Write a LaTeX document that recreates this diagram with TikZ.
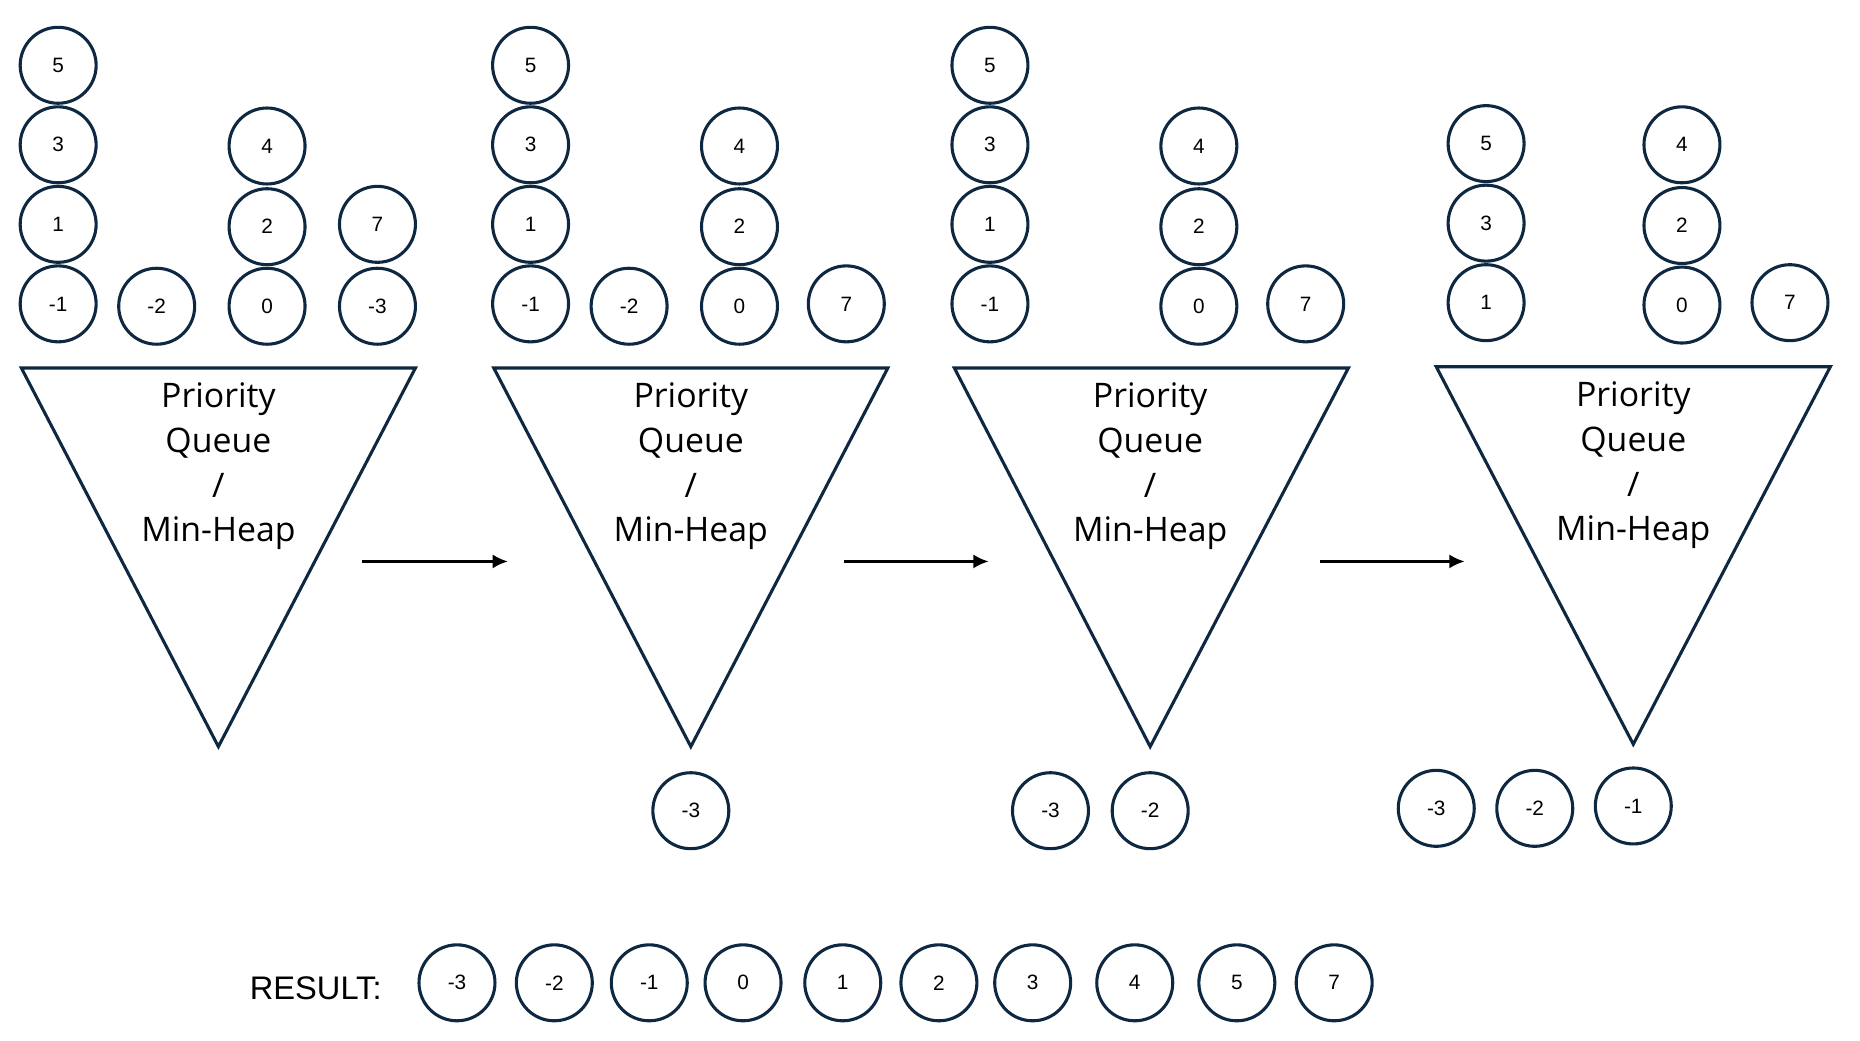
\documentclass[tikz,border=0pt]{standalone}
\usepackage{fontspec}
\setmainfont{Liberation Sans}
\newfontfamily\pqfont{Open Sans}
\usetikzlibrary{arrows.meta}
\definecolor{navy}{HTML}{0E2841}
\begin{document}
\begin{tikzpicture}[x=1pt,y=-1pt,
  ball/.style={circle, draw=navy, line width=2.6pt, minimum size=64pt, inner sep=0pt, font=\fontsize{17.5}{20}\selectfont},
  funnel/.style={draw=navy, line width=2.6pt, line join=miter},
  pqlabel/.style={align=center, font=\pqfont\fontsize{28.5}{37.7}\selectfont},
  flow/.style={-{Latex[length=13pt,width=12pt]}, line width=2.5pt, black},
  restext/.style={font=\fontsize{27.5}{32}\selectfont}]
\useasboundingbox (0,0) rectangle (1567,877);

% ---- panel 1
\node[ball] (p1a5) at (49,55) {5};
\node[ball] (p1a3) at (49,122) {3};
\node[ball] (p1a1) at (49,189) {1};
\node[ball] (p1am1) at (49,256) {-1};
\node[ball] (p1bm2) at (132,258) {-2};
\node[ball] (p1c4) at (225,123) {4};
\node[ball] (p1c2) at (225,191) {2};
\node[ball] (p1c0) at (225,258) {0};
\node[ball] (p1d7) at (318,189) {7};
\node[ball] (p1dm3) at (318,258) {-3};
\draw[funnel] (18,310) -- (350,310) -- (184,629) -- cycle;
\node[pqlabel] (p1t) at (184,393) {Priority\\Queue\\/\\Min-Heap};

% ---- panel 2
\node[ball] (p2a5) at (447,55) {5};
\node[ball] (p2a3) at (447,122) {3};
\node[ball] (p2a1) at (447,189) {1};
\node[ball] (p2am1) at (447,256) {-1};
\node[ball] (p2bm2) at (530,258) {-2};
\node[ball] (p2c4) at (623,123) {4};
\node[ball] (p2c2) at (623,191) {2};
\node[ball] (p2c0) at (623,258) {0};
\node[ball] (p2d7) at (713,256) {7};
\draw[funnel] (416,310) -- (748,310) -- (582,629) -- cycle;
\node[pqlabel] (p2t) at (582,393) {Priority\\Queue\\/\\Min-Heap};
\node[ball] (p2om3) at (582,683) {-3};

% ---- panel 3
\node[ball] (p3a5) at (834,55) {5};
\node[ball] (p3a3) at (834,122) {3};
\node[ball] (p3a1) at (834,189) {1};
\node[ball] (p3am1) at (834,256) {-1};
\node[ball] (p3c4) at (1010,123) {4};
\node[ball] (p3c2) at (1010,191) {2};
\node[ball] (p3c0) at (1010,258) {0};
\node[ball] (p3d7) at (1100,256) {7};
\draw[funnel] (804,310) -- (1136,310) -- (969,629) -- cycle;
\node[pqlabel] (p3t) at (969,393) {Priority\\Queue\\/\\Min-Heap};
\node[ball] (p3om3) at (885,683) {-3};
\node[ball] (p3om2) at (969,683) {-2};

% ---- panel 4
\node[ball] (p4a5) at (1252,121) {5};
\node[ball] (p4a3) at (1252,188) {3};
\node[ball] (p4a1) at (1252,255) {1};
\node[ball] (p4c4) at (1417,122) {4};
\node[ball] (p4c2) at (1417,190) {2};
\node[ball] (p4c0) at (1417,257) {0};
\node[ball] (p4d7) at (1508,255) {7};
\draw[funnel] (1210,309) -- (1542,309) -- (1376,627) -- cycle;
\node[pqlabel] (p4t) at (1376,392) {Priority\\Queue\\/\\Min-Heap};
\node[ball] (p4om3) at (1210,681) {-3};
\node[ball] (p4om2) at (1293,681) {-2};
\node[ball] (p4om1) at (1376,679) {-1};

% ---- arrows
\coordinate (a1s) at (305,473); \coordinate (a1e) at (428,473);
\coordinate (a2s) at (711,473); \coordinate (a2e) at (833,473);
\coordinate (a3s) at (1112,473); \coordinate (a3e) at (1234,473);
\draw[flow] (a1s) -- (a1e);
\draw[flow] (a2s) -- (a2e);
\draw[flow] (a3s) -- (a3e);

% ---- result
\node[restext] (res) at (266,833) {RESULT:};
\node[ball] (r1) at (385,828) {-3};
\node[ball] (r2) at (467,828) {-2};
\node[ball] (r3) at (547,828) {-1};
\node[ball] (r4) at (626,828) {0};
\node[ball] (r5) at (710,828) {1};
\node[ball] (r6) at (791,828) {2};
\node[ball] (r7) at (870,828) {3};
\node[ball] (r8) at (956,828) {4};
\node[ball] (r9) at (1042,828) {5};
\node[ball] (r10) at (1124,828) {7};
\end{tikzpicture}
\end{document}
